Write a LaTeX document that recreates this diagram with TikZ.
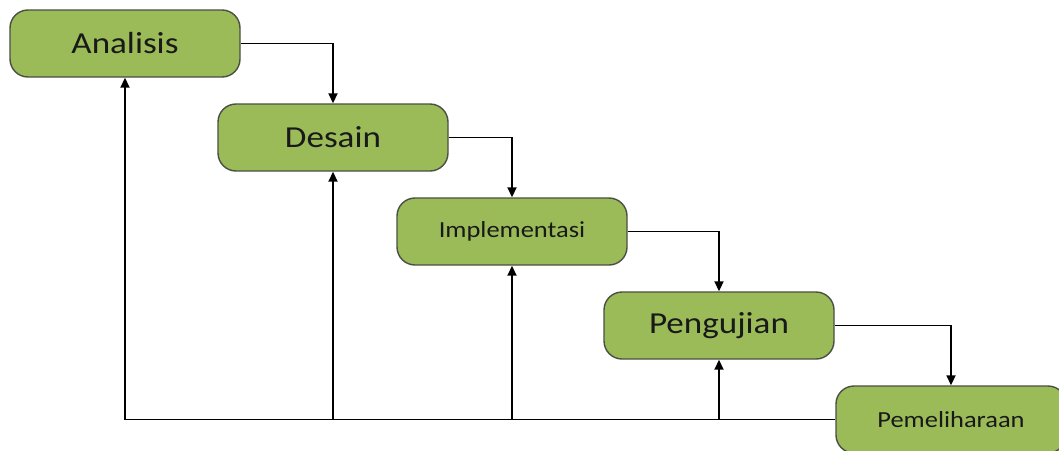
\documentclass[tikz,border=0pt]{standalone}
\usepackage{fontspec}
\setmainfont{Carlito}[FakeStretch=1.15]
\usetikzlibrary{arrows.meta}
\definecolor{tahap}{HTML}{9BBB59}
\definecolor{garis}{HTML}{4A4F44}
\tikzset{
	tahapbox/.style={draw=garis, line width=1.4pt, fill=tahap, rounded corners=18pt, minimum width=230pt, minimum height=67pt, text=black!90, inner sep=0pt},
	besar/.style={font=\fontsize{30.5}{36}\selectfont},
	kecil/.style={font=\fontsize{23}{27}\selectfont},
	alur/.style={line width=1.8pt, -{Triangle[width=9pt,length=10pt]}}
}

\begin{document}
\begin{tikzpicture}[x=1pt, y=-1pt]
				\useasboundingbox (0,0) rectangle (1059,450);
				\clip (0,0) rectangle (1059,450);
				\node [tahapbox, besar] (ana) at (125,43.5) {Analisis};
				\node [tahapbox, besar] (des) at (333,137.5) {Desain};
				\node [tahapbox, kecil] (imp) at (512,231.5) {Implementasi};
				\node [tahapbox, besar] (uji) at (719,325.5) {Pengujian};
				\node [tahapbox, kecil] (pel) at (951,419.5) {Pemeliharaan};
				\draw [alur] (ana.east) -| (des.north);
				\draw [alur] (des.east) -| (imp.north);
				\draw [alur] (imp.east) -| (uji.north);
				\draw [alur] (uji.east) -| (pel.north);
				\draw [alur] (pel.west) -| (ana.south);
				\draw [alur] (pel.west -| des.south) -- (des.south);
				\draw [alur] (pel.west -| imp.south) -- (imp.south);
				\draw [alur] (pel.west -| uji.south) -- (uji.south);
			\end{tikzpicture}
\end{document}
